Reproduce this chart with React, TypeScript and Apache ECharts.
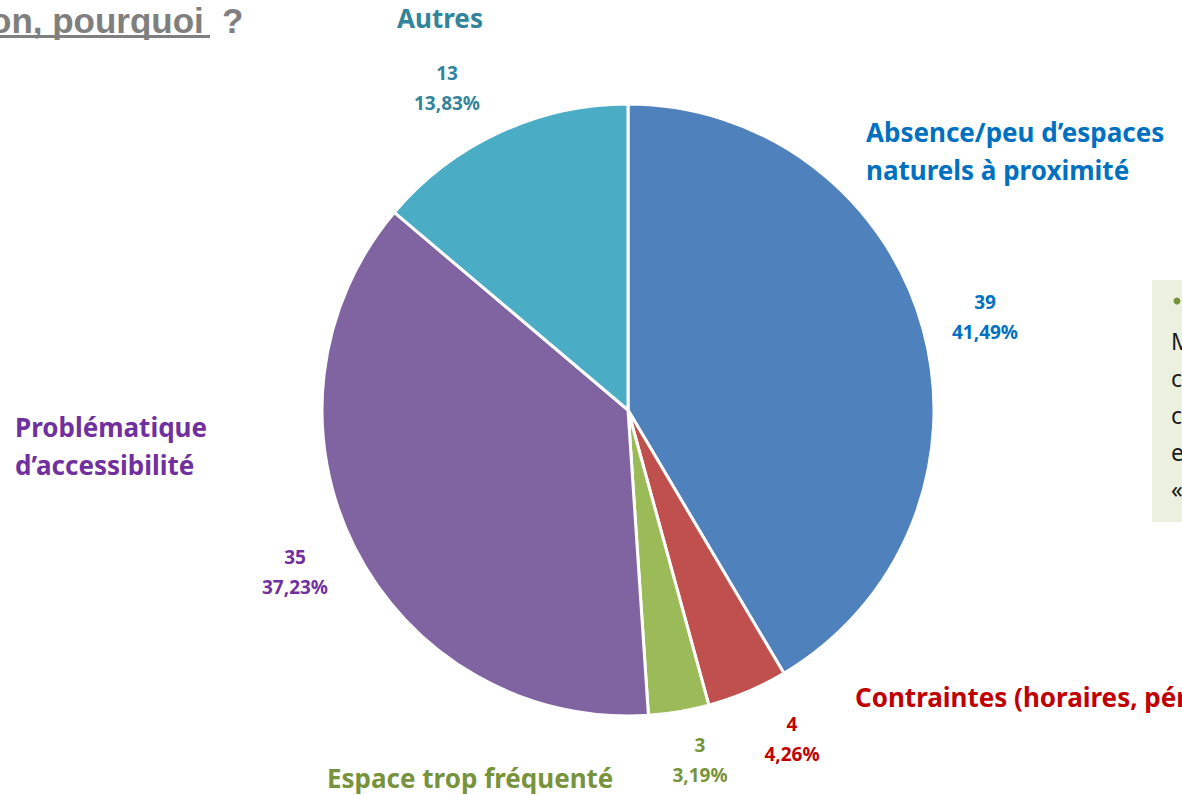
import React, { useEffect, useRef } from "react";
import * as echarts from "echarts";

const categories = [
  "Absence/peu d’espaces naturels à proximité",
  "Contraintes (horaires, période)",
  "Espace trop fréquenté",
  "Problématique d’accessibilité",
  "Autres",
];
const values = [39, 4, 3, 35, 13];
const sliceColors = ["#4F81BD", "#C0504D", "#9BBB59", "#8064A2", "#4BACC6"];
const labelColors = ["#0070C0", "#C00000", "#77933C", "#7030A0", "#31849B"];
// value-label centres
const valueLabelPos = [
  [985, 317],
  [792, 739],
  [700, 760],
  [295, 572],
  [447, 88],
];
// category-name blocks
const nameLines = [
  ["Absence/peu d’espaces", "naturels à proximité"],
  ["Contraintes (horaires, période)"],
  ["Espace trop fréquenté"],
  ["Problématique", "d’accessibilité"],
  ["Autres"],
];
const namePos: [number, number, string][] = [
  [866, 132, "left"],
  [855, 697, "left"],
  [327, 778, "left"],
  [15, 427, "left"],
  [440, 18, "center"],
];
const sideLetters = ["M", "c", "c", "e", "«"];

const FONT = "Noto Sans";

export default function App() {
  const ref = useRef<HTMLDivElement>(null);
  useEffect(() => {
    if (!ref.current) return;
    const chart = echarts.init(ref.current, null, { renderer: "svg" });
    const total = values.reduce((a, b) => a + b, 0);
    const graphics: any[] = [];
    const titleStyle = {
      fill: "#7F7F7F",
      fontFamily: "Liberation Sans",
      fontWeight: "bold",
      fontSize: 35,
      verticalAlign: "middle",
    };
    graphics.push({ type: "text", x: -10, y: 20, style: { ...titleStyle, text: "on, pourquoi" } });
    graphics.push({
      type: "line",
      shape: { x1: 0, y1: 36.5, x2: 210, y2: 36.5 },
      style: { stroke: "#7F7F7F", lineWidth: 3 },
    });
    graphics.push({ type: "text", x: 222, y: 20, style: { ...titleStyle, text: "?" } });
    // side box
    graphics.push({
      type: "rect",
      shape: { x: 1152, y: 280, width: 40, height: 242 },
      style: { fill: "#EBF1DE" },
    });
    graphics.push({ type: "circle", shape: { cx: 1177, cy: 301, r: 3.5 }, style: { fill: "#77933C" } });
    sideLetters.forEach((t, i) => {
      graphics.push({
        type: "text",
        x: 1171,
        y: 341 + i * 37,
        style: {
          text: t,
          fill: "#1a1a1a",
          fontFamily: FONT,
          fontSize: 23,
          verticalAlign: "middle",
        },
      });
    });
    nameLines.forEach((lines, i) => {
      lines.forEach((ln, j) => {
        graphics.push({
          type: "text",
          x: namePos[i][0],
          y: namePos[i][1] + j * 38,
          style: {
            text: ln,
            fill: labelColors[i],
            fontFamily: FONT,
            fontWeight: "bold",
            fontSize: 26,
            align: namePos[i][2],
            verticalAlign: "middle",
          },
        });
      });
    });

    chart.setOption({
      animation: false,
      backgroundColor: "#ffffff",
      graphic: graphics,
      series: [
        {
          type: "pie",
          center: [628, 410],
          radius: [0, 306],
          startAngle: 90,
          clockwise: true,
          itemStyle: { borderColor: "#ffffff", borderWidth: 3 },
          data: categories.map((c, i) => ({
            name: c,
            value: values[i],
            itemStyle: { color: sliceColors[i] },
            label: { color: labelColors[i] },
          })),
          label: {
            show: true,
            position: "outside",
            formatter: (p: any) =>
              p.value + "\n" + ((p.value / total) * 100).toFixed(2).replace(".", ",") + "%",
            fontFamily: FONT,
            fontWeight: "bold",
            fontSize: 19,
            lineHeight: 30,
            align: "center",
          },
          labelLine: { show: false },
          labelLayout: (p: any) => ({
            x: valueLabelPos[p.dataIndex][0],
            y: valueLabelPos[p.dataIndex][1],
            align: "center",
            verticalAlign: "middle",
          }),
        },
      ],
    });
    return () => chart.dispose();
  }, []);
  return (
    <div
      ref={ref}
      style={{ position: "fixed", left: 0, top: 0, width: 1182, height: 795 }}
    />
  );
}
